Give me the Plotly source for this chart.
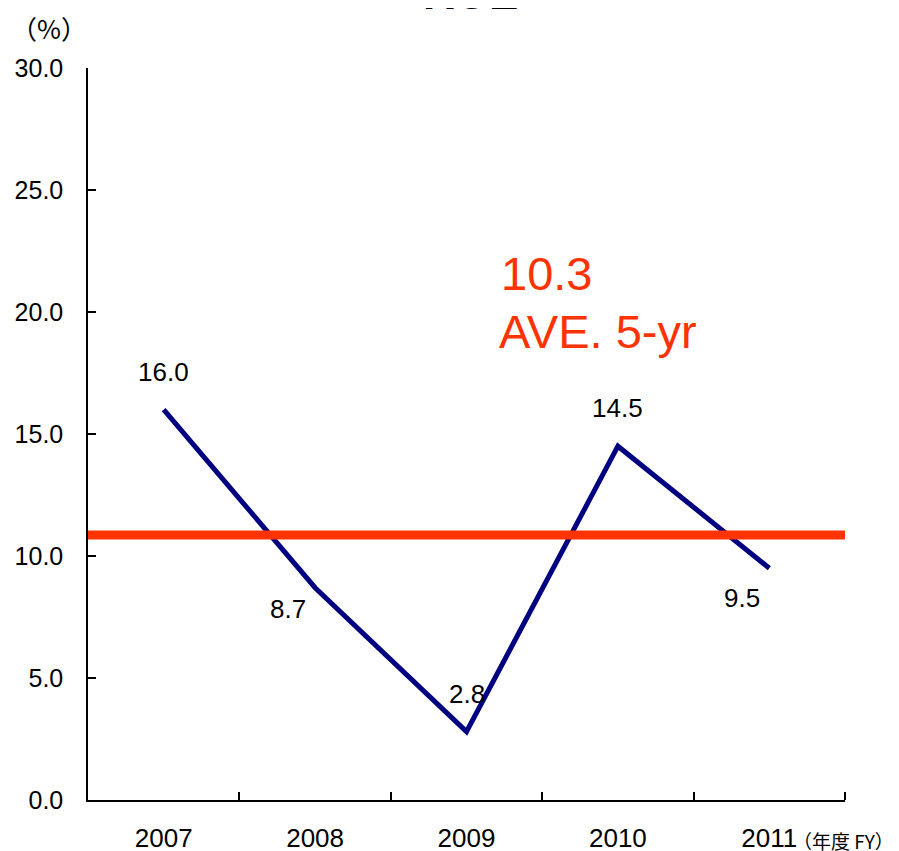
import plotly.graph_objects as go

years = ["2007", "2008", "2009", "2010", "2011"]
roe = [16.0, 8.7, 2.8, 14.5, 9.5]
label_text = ["16.0", "8.7", "2.8", "14.5", "9.5"]
label_dx = [0, -27, 0, 0, -27]
label_dy = [38, -21, 38, 38, -30]
ave_line = 10.86
ave_text = "10.3"
y_ticks = [0, 5, 10, 15, 20, 25, 30]

FONT = "Liberation Sans, Arial, sans-serif"
CJK = "Noto Sans CJK JP, sans-serif"

idx = list(range(len(years)))
bounds = [i + 0.5 for i in idx]

fig = go.Figure()
fig.add_trace(go.Scatter(
    x=idx, y=roe, mode="lines",
    line=dict(color="#000080", width=5),
    showlegend=False, hoverinfo="skip",
))

fig.add_shape(type="line", xref="x domain", yref="y", x0=0, x1=1,
              y0=ave_line, y1=ave_line,
              line=dict(color="#FF3300", width=9), layer="above")

for x, y, t, dx, dy in zip(idx, roe, label_text, label_dx, label_dy):
    fig.add_annotation(x=x, y=y, text=t, showarrow=False,
                       xshift=dx, yshift=dy,
                       font=dict(family=FONT, size=26, color="black"))

fig.add_annotation(xref="paper", yref="paper", x=(499-88)/757, y=(800-273)/732,
                   text=ave_text, showarrow=False, xanchor="left", yanchor="middle",
                   font=dict(family=FONT, size=47, color="#FF3300"))
fig.add_annotation(xref="paper", yref="paper", x=(497-88)/757, y=(800-331)/732,
                   text="AVE. 5-yr", showarrow=False, xanchor="left", yanchor="middle",
                   font=dict(family=FONT, size=47, color="#FF3300"))

fig.add_annotation(xref="paper", yref="paper", x=(470-88)/757, y=(800-20)/732,
                   text="<b>ROE</b>", showarrow=False, xanchor="center", yanchor="bottom",
                   font=dict(family=FONT, size=44, color="black"))
fig.add_annotation(xref="paper", yref="paper", x=(49-88)/757, y=(800-27)/732,
                   text="（%）", showarrow=False, xanchor="center", yanchor="middle",
                   font=dict(family=CJK, size=26, color="black"))
fig.add_annotation(xref="paper", yref="paper", x=(791-88)/757, y=(800-840)/732,
                   text="（年度 FY）", showarrow=False, xanchor="left", yanchor="middle",
                   font=dict(family=CJK, size=19, color="black"))
fig.add_annotation(xref="paper", yref="paper", x=(14-88)/757, y=(800-840)/732,
                   text="（年度 FY）", showarrow=False, xanchor="right", yanchor="middle",
                   font=dict(family=CJK, size=19, color="black"))

fig.update_layout(
    width=899, height=851,
    margin=dict(l=80, r=62, t=60, b=59, autoexpand=False),
    paper_bgcolor="white", plot_bgcolor="white",
    font=dict(family=FONT, color="black"),
)
fig.update_xaxes(
    range=[-0.5, 4.5], tickvals=idx, ticktext=years, tickangle=0,
    showline=True, linecolor="black", linewidth=1.5,
    ticks="", automargin=False,
    minor=dict(tickvals=bounds, ticks="inside", ticklen=8, tickcolor="black", tickwidth=1.5, showgrid=False),
    showgrid=False, zeroline=False, tickfont=dict(size=26, family=FONT),
    ticklabelstandoff=14,
)
fig.update_yaxes(
    range=[0, 30], tickvals=y_ticks, tickformat=".1f", automargin=False,
    showline=True, linecolor="black", linewidth=1.5,
    ticks="inside", ticklen=8, tickcolor="black", tickwidth=1.5,
    showgrid=False, zeroline=False, tickfont=dict(size=25, family=FONT),
    ticklabelstandoff=18,
)

fig.write_html("out.html")
